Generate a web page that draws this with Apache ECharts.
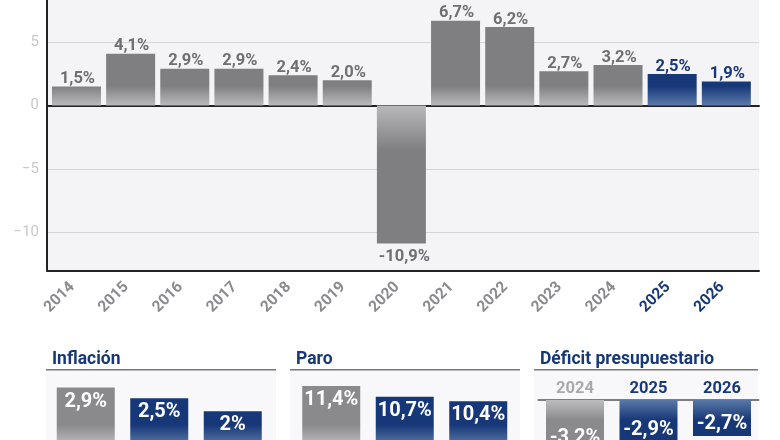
<!DOCTYPE html>
<html>
<head>
<meta charset="utf-8">
<style>
  html, body { margin: 0; padding: 0; background: #fff; }
  #chart { width: 780px; height: 440px; }
</style>
<script src="https://cdn.jsdelivr.net/npm/echarts@6/dist/echarts.min.js"></script>
</head>
<body>
<div id="chart"></div>
<script>
// main chart
var years = ['2014','2015','2016','2017','2018','2019','2020','2021','2022','2023','2024','2025','2026'];
var gdp = [1.5, 4.1, 2.9, 2.9, 2.4, 2.0, -10.9, 6.7, 6.2, 2.7, 3.2, 2.5, 1.9];
var forecastYears = ['2025', '2026'];
var yTicks = [-10, -5, 0, 5];

// small panels
var panelYears = ['2024', '2025', '2026'];
var inflation = [2.9, 2.5, 2];
var unemployment = [11.4, 10.7, 10.4];
var deficit = [-3.2, -2.9, -2.7];

var GREY = '#7f7e81', GREY_LIGHT = '#b9b8ba', NAVY = '#173878', NAVY_LIGHT = '#5a78a8';
var FONT = 'Roboto';

function fade(y0, y1, from, to) {
  return new echarts.graphic.LinearGradient(0, y0, 0, y1, [
    { offset: 0, color: from }, { offset: 1, color: to }
  ], true);
}

function comma(v, digits) {
  return v.toFixed(digits).replace('.', ',') + '%';
}

var grids = [
  { left: 47, top: 0, width: 712, height: 270.5, show: true, backgroundColor: '#f4f3f6', borderWidth: 0, outerBoundsMode: 'none' },
  { left: 49.4, top: 0, width: 704, height: 270.5, outerBoundsMode: 'none' }
];
var xAxes = [
  // frame: bottom line, and the line at zero
  { gridIndex: 0, type: 'value', min: 0, max: 1, position: 'bottom', axisLine: { onZero: false, lineStyle: { color: '#222', width: 2 } },
    axisTick: { show: false }, axisLabel: { show: false }, splitLine: { show: false } },
  { gridIndex: 0, type: 'value', min: 0, max: 1, axisLine: { onZero: true, lineStyle: { color: '#222', width: 2 } },
    axisTick: { show: false }, axisLabel: { show: false }, splitLine: { show: false } },
  { gridIndex: 1, type: 'category', data: years, position: 'bottom', axisLine: { show: false, onZero: false }, axisTick: { show: false },
    axisLabel: { rotate: 45, margin: 10, padding: [0, 6, 0, 0], interval: 0, fontFamily: FONT, fontWeight: 'bold', fontSize: 15.5,
      color: function (v) { return forecastYears.indexOf(v) >= 0 ? NAVY : '#8b8a8e'; } } }
];
var yAxes = [
  { gridIndex: 0, type: 'value', min: -13.04, max: 8.34, position: 'left',
    axisLine: { show: true, onZero: false, lineStyle: { color: '#222', width: 2 } },
    axisTick: { show: false, customValues: yTicks },
    axisLabel: { customValues: yTicks, margin: 8, fontFamily: FONT, fontSize: 15, color: '#c8c7cb',
      formatter: function (v) { return String(v).replace('-', '\u2212'); } },
    splitLine: { show: true, lineStyle: { color: '#d6d4d9', width: 1 } } },
  { gridIndex: 1, type: 'value', min: -13.04, max: 8.34, show: false, splitLine: { show: false } }
];

var series = [{
  type: 'bar',
  xAxisIndex: 2,
  yAxisIndex: 1,
  barWidth: 49,
  data: gdp.map(function (v, i) {
    var forecast = forecastYears.indexOf(years[i]) >= 0;
    var neg = v < 0;
    return {
      value: v,
      itemStyle: {
        color: neg ? fade(105, 150, GREY_LIGHT, GREY)
          : fade(86, 105, forecast ? NAVY : GREY, forecast ? NAVY_LIGHT : GREY_LIGHT)
      },
      label: {
        show: true,
        position: neg ? 'bottom' : 'top',
        distance: neg ? 4 : 0,
        offset: neg ? [3, 1] : [1, 1],
        formatter: comma(v, 1),
        fontFamily: FONT,
        fontWeight: 'bold',
        fontSize: 16.5,
        color: forecast ? NAVY : '#6f6e72'
      }
    };
  })
}];

var titles = [], rects = [];

function addPanel(name, values, opt) {
  var g = grids.length;
  grids.push({ left: opt.left, top: opt.top, width: 220.5, height: opt.height, outerBoundsMode: 'none' });
  xAxes.push({
    gridIndex: g, type: 'category', data: panelYears, position: opt.header ? 'top' : 'bottom',
    axisLine: { show: !!opt.header, onZero: false, lineStyle: { color: '#555', width: 1.5 } },
    axisTick: { show: false },
    axisLabel: { show: !!opt.header, margin: 3, fontFamily: FONT, fontWeight: 'bold', fontSize: 16.5,
      color: function (v) { return v === '2024' ? '#a9a8ab' : NAVY; } }
  });
  yAxes.push({ gridIndex: g, type: 'value', min: opt.min, max: opt.max, show: false, splitLine: { show: false } });
  series.push({
    type: 'bar',
    xAxisIndex: xAxes.length - 1,
    yAxisIndex: yAxes.length - 1,
    barWidth: 58,
    data: values.map(function (v, i) {
      var past = i === 0;
      var dark = past ? '#8a898c' : NAVY;
      var light = past ? '#bdbcbe' : NAVY_LIGHT;
      return {
        value: v,
        itemStyle: { color: opt.header ? fade(400, 420, light, dark) : fade(425, 445, dark, light) },
        label: {
          show: true,
          position: opt.header ? 'insideBottom' : 'insideTop',
          distance: opt.header ? 2 : 4,
          formatter: comma(v, v === 2 ? 0 : 1),
          fontFamily: FONT,
          fontWeight: 'bold',
          fontSize: 20,
          color: '#fff'
        }
      };
    })
  });
  titles.push({ text: name, left: opt.panelX + 1, top: 346,
    textStyle: { fontFamily: FONT, fontWeight: 'bold', fontSize: 17.5, color: NAVY } });
  rects.push({ type: 'rect', shape: { x: opt.panelX, y: 370, width: opt.panelW, height: 70 }, style: { fill: '#f8f8fa' }, silent: true });
  rects.push({ type: 'rect', shape: { x: opt.panelX, y: 369, width: opt.panelW, height: 1.5 }, style: { fill: '#77767a' }, silent: true });
}

// truncated scales, the three panels do not start at zero
addPanel('Inflación', inflation, { left: 49, top: 372, height: 68, min: 0.914, max: 3.49, panelX: 46, panelW: 230 });
addPanel('Paro', unemployment, { left: 294.5, top: 372, height: 68, min: 7.9, max: 12.3, panelX: 290, panelW: 230 });
addPanel('Déficit presupuestario', deficit, { left: 538.25, top: 400, height: 60, min: -3.53, max: -1.46, header: true, panelX: 534, panelW: 224 });

var chart = echarts.init(document.getElementById('chart'));
chart.setOption({
  animation: false,
  backgroundColor: '#fff',
  title: titles,
  graphic: rects,
  grid: grids,
  xAxis: xAxes,
  yAxis: yAxes,
  series: series
});
</script>
</body>
</html>
